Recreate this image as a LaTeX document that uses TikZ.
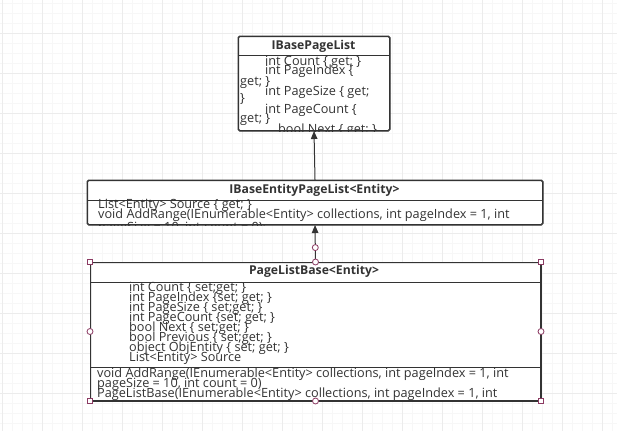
\documentclass[tikz,border=0pt]{standalone}
\usepackage{fontspec}
\setmainfont{Open Sans}
\usetikzlibrary{arrows.meta,positioning}
\definecolor{gridmin}{HTML}{F7F7F7}
\definecolor{gridmaj}{HTML}{ECECEC}
\definecolor{boxline}{HTML}{333333}
\definecolor{handle}{HTML}{8B3A62}
\tikzset{
  classbox/.style={draw=boxline,fill=white,line width=1pt,rounded corners=1.5pt,anchor=north west,inner sep=0pt},
  classname/.style={font=\fontsize{12.2}{12}\selectfont\bfseries,text=boxline},
  member/.style={font=\fontsize{12.7}{10}\selectfont,text=boxline,anchor=base west,inner sep=0pt},
  sepline/.style={draw=boxline,line width=1pt},
  inherit/.style={-{Triangle[length=8pt,width=6.5pt]},line width=1pt,boxline},
  sqhandle/.style={draw=handle,fill=white,minimum size=5pt,inner sep=0pt,line width=0.8pt},
  cirhandle/.style={draw=handle,fill=white,circle,minimum size=6pt,inner sep=0pt,line width=0.8pt}
}

\begin{document}
\begin{tikzpicture}[x=1pt,y=-1pt]
  \useasboundingbox[fill=white] (0,0) rectangle (617,431);
  % background grid
  \foreach \gx in {2,12,...,612} \draw[gridmin] (\gx,0) -- (\gx,431);
  \foreach \gy in {3,13,...,431} \draw[gridmin] (0,\gy) -- (617,\gy);
  \foreach \gx in {2,42,...,602} \draw[gridmaj] (\gx,0) -- (\gx,431);
  \foreach \gy in {33,73,...,431} \draw[gridmaj] (0,\gy) -- (617,\gy);

  % IBasePageList
  \node[classbox,minimum width=151pt,minimum height=94pt] (ibase) at (238,36) {};
  \node[classname] (ibasename) at (313.5,46) {IBasePageList};
  \draw[sepline] ([yshift=-19pt]ibase.north west) -- ([yshift=-19pt]ibase.north east);
  \begin{scope}
    \clip (ibase.north west) rectangle (ibase.south east);
    \node[member] (ib1) at (265,65) {int Count \{ get; \}};
    \node[member] (ib2) at (265,74) {int PageIndex \{};
    \node[member] (ib3) at (240,85) {get; \}};
    \node[member] (ib4) at (265,95) {int PageSize \{ get;};
    \node[member] (ib5) at (240,102) {\}};
    \node[member] (ib6) at (265,113) {int PageCount \{};
    \node[member] (ib7) at (240,122) {get; \}};
    \node[member] (ib8) at (278,133) {bool Next \{ get; \}};
  \end{scope}
  \draw[boxline,line width=1pt,rounded corners=1.5pt] (ibase.north west) rectangle (ibase.south east);

  % IBaseEntityPageList<Entity>
  \node[classbox,minimum width=455pt,minimum height=44pt] (entity) at (87,180) {};
  \node[classname] (entityname) at (314.5,190) {IBaseEntityPageList<Entity>};
  \draw[sepline] ([yshift=-20pt]entity.north west) -- ([yshift=-20pt]entity.north east);
  \begin{scope}
    \clip (entity.north west) rectangle (entity.south east);
    \node[member] (en1) at (98,208) {List<Entity> Source \{ get; \}};
    \node[member] (en2) at (98,218) {void AddRange(IEnumerable<Entity> collections, int pageIndex = 1, int};
    \node[member] (en3) at (98,231) {pageSize = 10, int count = 0);};
  \end{scope}
  \draw[boxline,line width=1pt,rounded corners=1.5pt] (entity.north west) rectangle (entity.south east);

  % PageListBase<Entity>
  \node[classbox,minimum width=450pt,minimum height=138pt] (plbase) at (90,262) {};
  \node[classname] (plbasename) at (314,271) {PageListBase<Entity>};
  \draw[sepline] ([yshift=-20pt]plbase.north west) -- ([yshift=-20pt]plbase.north east);
  \draw[sepline] ([yshift=-105pt]plbase.north west) -- ([yshift=-105pt]plbase.north east);
  \begin{scope}
    \clip (plbase.north west) rectangle (plbase.south east);
    \node[member] (pl1) at (129,291) {int Count \{ set;get; \}};
    \node[member] (pl2) at (129,301) {int PageIndex \{set; get; \}};
    \node[member] (pl3) at (129,311) {int PageSize \{ set;get; \}};
    \node[member] (pl4) at (129,321) {int PageCount \{set; get; \}};
    \node[member] (pl5) at (129,331) {bool Next \{ set;get; \}};
    \node[member] (pl6) at (129,341) {bool Previous \{ set;get; \}};
    \node[member] (pl7) at (129,351) {object ObjEntity \{ set; get; \}};
    \node[member] (pl8) at (129,361) {List<Entity> Source};
    \node[member] (pm1) at (97,377) {void AddRange(IEnumerable<Entity> collections, int pageIndex = 1, int};
    \node[member] (pm2) at (97,387) {pageSize = 10, int count = 0)};
    \node[member] (pm3) at (97,397) {PageListBase(IEnumerable<Entity> collections, int pageIndex = 1, int};
  \end{scope}
  \draw[boxline,line width=1pt] (plbase.north west) rectangle (plbase.south east);

  % inheritance
  \draw[inherit] (entity.north) -- (ibase.south);
  \draw[inherit] (plbase.north) -- (entity.south);

  % selection handles
  \path (plbase.north) -- (entity.south) node[cirhandle,pos=0.39] (hcon) {};
  \node[sqhandle] (hnw) at (plbase.north west) {};
  \node[sqhandle] (hne) at (plbase.north east) {};
  \node[sqhandle] (hsw) at (plbase.south west) {};
  \node[sqhandle] (hse) at (plbase.south east) {};
  \node[cirhandle] (hn) at (plbase.north) {};
  \node[cirhandle] (hs) at (plbase.south) {};
  \node[cirhandle] (hw) at (plbase.west) {};
  \node[cirhandle] (he) at (plbase.east) {};
\end{tikzpicture}
\end{document}
